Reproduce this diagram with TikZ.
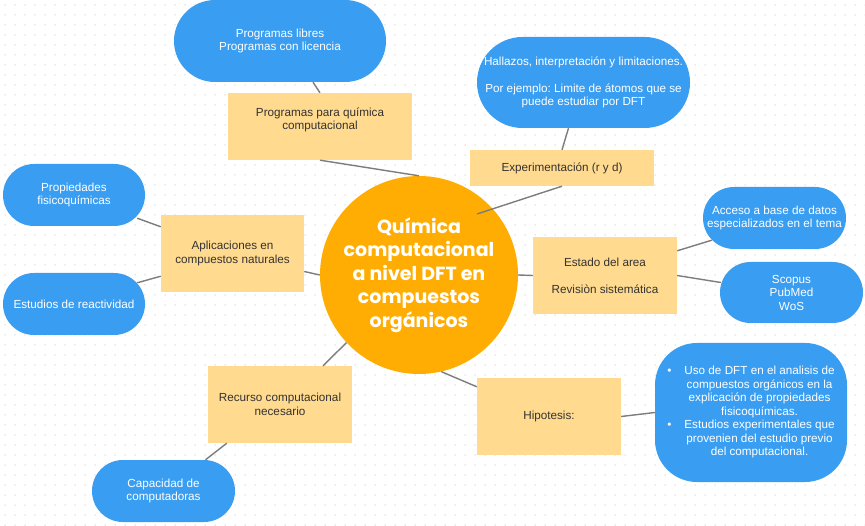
\documentclass[tikz,border=0pt]{standalone}
\usepackage{fontspec}
\setmainfont{Liberation Sans}
\newfontfamily\hubfont{Poppins}
\usetikzlibrary{calc}
\frenchspacing

\definecolor{leafblue}{RGB}{57,157,241}
\definecolor{topicyellow}{RGB}{255,218,143}
\definecolor{hubamber}{RGB}{255,173,2}
\definecolor{linkgray}{RGB}{125,125,125}
\definecolor{griddot}{RGB}{214,214,214}

\begin{document}
\begin{tikzpicture}[
  x=1pt, y=-1pt,
  font=\fontsize{11.7}{13.5}\selectfont,
  topic/.style={fill=topicyellow, text=black!80, align=center, inner sep=0pt},
  leaf/.style={fill=leafblue, text=white, align=center, inner sep=0pt},
  hubdisc/.style={circle, fill=hubamber, text=white, align=center, inner sep=0pt,
                  minimum size=198pt, font=\hubfont\bfseries\fontsize{19}{23.5}\selectfont},
  link/.style={draw=linkgray, line width=1.4pt}
]

%% Canvas with dotted grid
\useasboundingbox[fill=white] (0,0) rectangle (865,526);
\foreach \gx in {5,15,...,865}{
  \foreach \gy in {5,15,...,525}{
    \fill[griddot] (\gx,\gy) circle (0.75);
  }
}

%% Central topic
\node[hubdisc] (hub) at (419,275)
  {Química\\computacional\\a nivel DFT en\\compuestos\\orgánicos};

%% Yellow sub-topics
\node[topic, minimum width=184pt, minimum height=67pt, text depth=16pt] (prog) at (320,126.5)
  {Programas para química\\computacional};
\node[topic, minimum width=184pt, minimum height=36pt] (exper) at (562,168)
  {Experimentación (r y d)};
\node[topic, minimum width=144pt, minimum height=77pt] (estado) at (605,275.5)
  {Estado del area\\[13.5pt]Revisiòn sistemática};
\node[topic, minimum width=144pt, minimum height=77pt] (hipo) at (549,416.5)
  {Hipotesis:};
\node[topic, minimum width=143pt, minimum height=77pt] (aplic) at (232.5,253.5)
  {Aplicaciones en\\compuestos naturales};
\node[topic, minimum width=144pt, minimum height=77pt] (recurso) at (280,404.5)
  {Recurso computacional\\necesario};

%% Blue leaves
\node[leaf, minimum width=212pt, minimum height=82pt, rounded corners=41pt] (libres) at (280,41)
  {Programas libres\\Programas con licencia};
\node[leaf, minimum width=213pt, minimum height=91pt, rounded corners=45.5pt] (hallazgos) at (583.5,82.5)
  {Hallazos, interpretación y limitaciones.\\[13.5pt]Por ejemplo: Limite de átomos que se\\puede estudiar por DFT};
\node[leaf, minimum width=143pt, minimum height=62pt, rounded corners=31pt] (acceso) at (774.5,218)
  {Acceso a base de datos\\especializados en el tema};
\node[leaf, minimum width=143pt, minimum height=61pt, rounded corners=30.5pt] (bases) at (791.5,292.5)
  {Scopus\\PubMed\\WoS};
\node[leaf, minimum width=192pt, minimum height=139pt, rounded corners=42pt] (usos) at (751,412.5)
  {\begin{tabular}{@{}c@{\hspace{13pt}}c@{}}
   \textbullet & Uso de DFT en el analisis de\\
               & compuestos orgánicos en la\\
               & explicación de propiedades\\
               & fisicoquímicas.\\
   \textbullet & Estudios experimentales que\\
               & provenien del estudio previo\\
               & del computacional.
   \end{tabular}};
\node[leaf, minimum width=142pt, minimum height=62pt, rounded corners=31pt] (propied) at (74,195)
  {Propiedades\\fisicoquímicas};
\node[leaf, minimum width=142pt, minimum height=62pt, rounded corners=31pt] (reactiv) at (74,304)
  {Estudios de reactividad};
\node[leaf, minimum width=143pt, minimum height=62pt, rounded corners=31pt] (capac) at (163.5,491)
  {Capacidad de\\computadoras};

%% Connectors
\coordinate (exphub) at ($(hub.center)+(58,-61)$);
\draw[link] ($(libres.south)+(33,0)$) -- (prog.north);
\draw[link] (prog.south) -- (hub.north);
\draw[link] ($(hallazgos.south)+(-15,0)$) -- (exper.north);
\draw[link] (exper.south) -- (exphub);
\draw[link] (hub.east) -- (estado.west);
\draw[link] ($(estado.north east)+(0,14)$) -- ($(acceso.south west)+(9,-9)$);
\draw[link] (estado.east) -- ($(bases.west)+(1,-10)$);
\draw[link] (hub.-77) -- ($(hipo.north west)+(0,9)$);
\draw[link] (hipo.east) -- (usos.west);
\draw[link] ($(aplic.east)+(0,18)$) -- (hub.west);
\draw[link] ($(propied.south east)+(-8,-8)$) -- ($(aplic.north west)+(0,12)$);
\draw[link] ($(reactiv.north east)+(-8,10)$) -- ($(aplic.south west)+(0,-16)$);
\draw[link] (hub.223) -- ($(recurso.north)+(43,0)$);
\draw[link] ($(recurso.south west)+(19,0)$) -- ($(capac.north)+(42,0)$);

\end{tikzpicture}
\end{document}
